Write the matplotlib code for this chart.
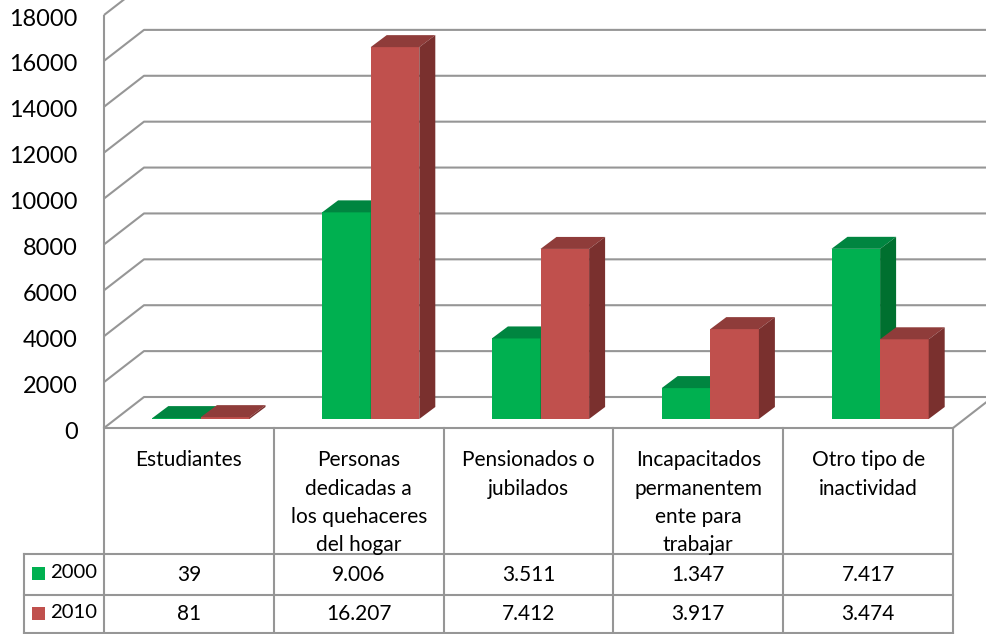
import matplotlib
matplotlib.use("Agg")
import matplotlib.pyplot as plt
from matplotlib.patches import Rectangle
from matplotlib.transforms import ScaledTranslation

plt.rcParams['font.family'] = ['Lato', 'DejaVu Sans']

# ---- data ----
categories = ["Estudiantes",
              "Personas\ndedicadas a\nlos quehaceres\ndel hogar",
              "Pensionados o\njubilados",
              "Incapacitados\npermanentem\nente para\ntrabajar",
              "Otro tipo de\ninactividad"]
series_names = ["2000", "2010"]
values_2000 = [39, 9006, 3511, 1347, 7417]
values_2010 = [81, 16207, 7412, 3917, 3474]
ytick_values = list(range(0, 18001, 2000))

GREEN = ("#00B050", "#008540", "#00702F")
RED = ("#C0504D", "#8F3C3A", "#7A302E")
GRID = "#969696"

# ---- layout (pixels of a 986x634 canvas) ----
W, H = 986, 634
AX_L, AX_R, AX_T, AX_B = 104, 953, 15, 428
fig = plt.figure(figsize=(W / 100, H / 100), dpi=100, facecolor="white")
ax = fig.add_axes([AX_L / W, 1 - AX_B / H, (AX_R - AX_L) / W, (AX_B - AX_T) / H])
ax.set_xlim(0, len(categories))
ax.set_ylim(0, 18000)
ax.patch.set_visible(False)
for s in ax.spines.values():
    s.set_visible(False)

px_x = len(categories) / (AX_R - AX_L)   # data units per pixel
px_y = 18000 / (AX_B - AX_T)

# ---- walls, floor and gridlines ----
wall_dx, wall_dy = 40 * px_x, 31 * px_y
far_right = len(categories) + wall_dx
grid_kw = dict(color=GRID, lw=1.5, clip_on=False, solid_capstyle="butt", zorder=1)
for v in ytick_values:
    ax.plot([0, wall_dx, far_right], [v, v + wall_dy, v + wall_dy], **grid_kw)
ax.plot([0, 0], [0, 18000], **grid_kw)
ax.plot([len(categories), far_right], [0, wall_dy], **grid_kw)

# ---- 3D bars ----
bar_w = 48.6 * px_x
bar_start = 48.3 * px_x
depth_dx, depth_dy = 16 * px_x, 12 * px_y
lift = 9 * px_y


def draw_bar(x, v, cols, z):
    front, top, side = cols
    y0, y1 = lift, lift + v
    ax.bar(x, v, width=bar_w, bottom=y0, align="edge", color=front,
           edgecolor="none", clip_on=False, zorder=z)
    ax.fill([x, x + depth_dx, x + bar_w + depth_dx, x + bar_w],
            [y1, y1 + depth_dy, y1 + depth_dy, y1],
            color=top, lw=0, clip_on=False, zorder=z)
    ax.fill([x + bar_w, x + bar_w + depth_dx, x + bar_w + depth_dx, x + bar_w],
            [y0, y0 + depth_dy, y1 + depth_dy, y1],
            color=side, lw=0, clip_on=False, zorder=z)


z = 2
for i, (a, b) in enumerate(zip(values_2000, values_2010)):
    draw_bar(i + bar_start, a, GREEN, z)
    draw_bar(i + bar_start + bar_w, b, RED, z + 1)
    z += 2

# ---- axis tick labels ----
ax.set_yticks(ytick_values)
ax.set_yticklabels([str(v) for v in ytick_values], fontsize=16.9, color="black")
ax.tick_params(axis="y", length=0, pad=19)
shift = ScaledTranslation(0, -1.5 / 72, fig.dpi_scale_trans)
for lab in ax.get_yticklabels():
    lab.set_transform(lab.get_transform() + shift)

ax.set_xticks([i + 0.5 for i in range(len(categories))])
ax.set_xticklabels(categories, fontsize=15, color="black", linespacing=1.52)
ax.tick_params(axis="x", length=0, pad=16)

# ---- data table ----
lay = fig.add_axes([0, 0, 1, 1], zorder=-1)
lay.set_xlim(0, W)
lay.set_ylim(H, 0)
lay.axis("off")
TBL_Y = [554, 595, 633]
TBL_LEFT = 24
col_w = (AX_R - AX_L) / len(categories)
col_x = [AX_L + i * col_w for i in range(len(categories) + 1)]
line_kw = dict(color=GRID, lw=1.5, solid_capstyle="projecting")
lay.plot([AX_L, AX_L], [AX_B, TBL_Y[-1]], **line_kw)
for x in col_x[1:]:
    lay.plot([x, x], [AX_B, TBL_Y[-1]], **line_kw)
lay.plot([AX_L, AX_R], [AX_B, AX_B], **line_kw)
lay.plot([TBL_LEFT, TBL_LEFT], [TBL_Y[0], TBL_Y[-1]], **line_kw)
for y in TBL_Y:
    lay.plot([TBL_LEFT, AX_R], [y, y], **line_kw)


def fmt(v):
    return f"{v:,}".replace(",", ".")


rows = [(series_names[0], values_2000, GREEN[0]), (series_names[1], values_2010, RED[0])]
for r, (name, vals, col) in enumerate(rows):
    yc = (TBL_Y[r] + TBL_Y[r + 1]) / 2
    lay.add_patch(Rectangle((32, yc - 7.5), 13, 13, color=col, lw=0))
    lay.text(50, yc - 2, name, fontsize=14.6, va="center", ha="left", color="black")
    for i, v in enumerate(vals):
        lay.text(col_x[i] + col_w / 2, yc + 0.5, fmt(v), fontsize=15, va="center", ha="center", color="black")

fig.savefig("out.png", dpi=100, facecolor="white")
